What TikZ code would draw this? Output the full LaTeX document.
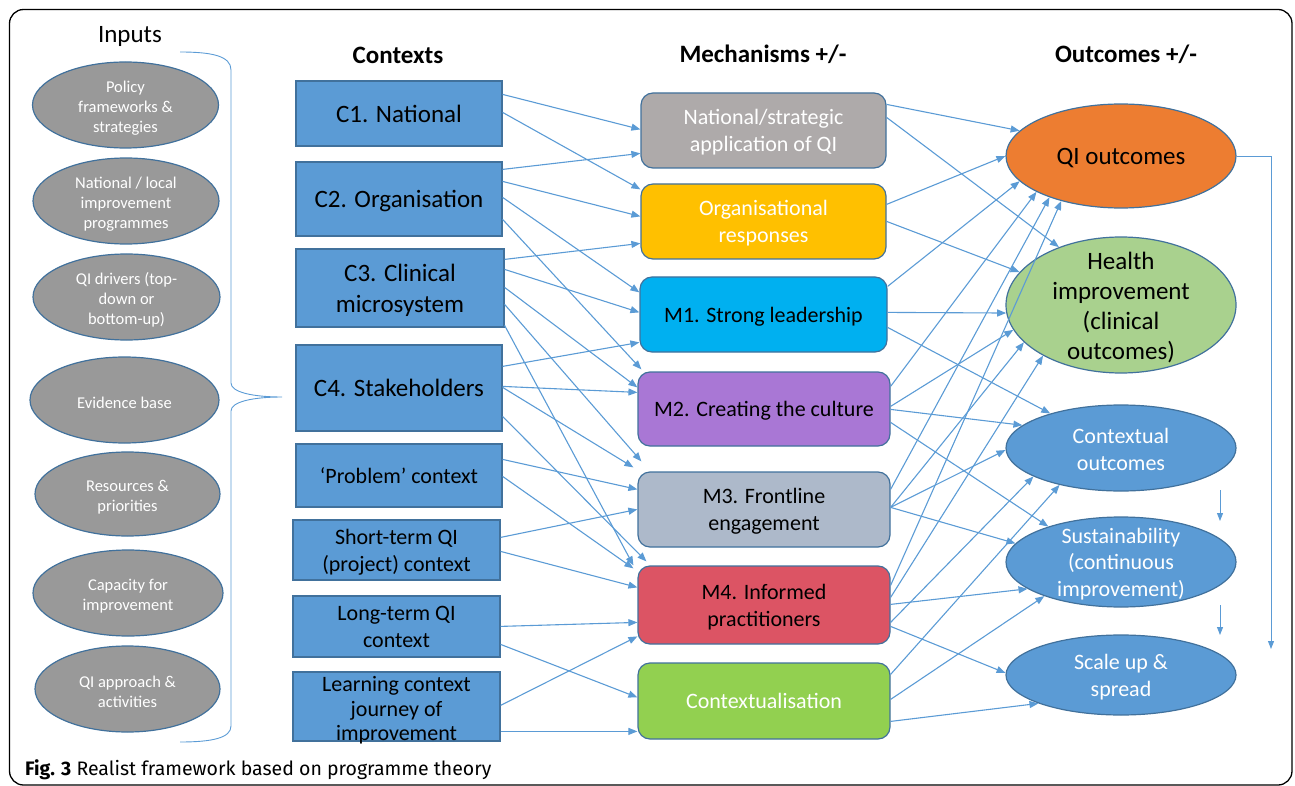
\documentclass[tikz,border=0pt]{standalone}
\usepackage{fontspec}
\setmainfont{Carlito}
\newfontfamily\capfont{Fira Sans}
\usetikzlibrary{arrows.meta,shapes.geometric,calc}
\newcommand{\fsz}[2]{\fontsize{#1}{#2}\selectfont}
\definecolor{cblue}{HTML}{5B9BD5}
\definecolor{bord}{HTML}{41719C}
\definecolor{ngray}{HTML}{AEAAAA}
\definecolor{orgy}{HTML}{FFC000}
\definecolor{mone}{HTML}{00B0F0}
\definecolor{mtwo}{HTML}{A977D5}
\definecolor{mthree}{HTML}{ADB9CA}
\definecolor{mfour}{HTML}{DC5464}
\definecolor{ctxg}{HTML}{92D050}
\definecolor{qio}{HTML}{ED7D31}
\definecolor{hlth}{HTML}{A9D18E}
\definecolor{inp}{HTML}{999999}
\begin{document}
\begin{tikzpicture}[x=1pt,y=-1pt,
  ctxbox/.style={draw=bord, line width=1.2pt, fill=cblue, inner sep=0pt, align=center, text depth=0pt, font=\fsz{25}{31}},
  ctxsmall/.style={ctxbox, font=\fsz{22}{27}},
  mech/.style={draw=bord, line width=1.2pt, rounded corners=12pt, inner sep=0pt, align=center, text depth=0pt, font=\fsz{22}{27}},
  outc/.style={ellipse, draw=bord, line width=1.2pt, minimum width=230pt, inner sep=0pt},
  inpe/.style={ellipse, draw=bord, line width=1.2pt, fill=inp, inner sep=0pt, minimum height=86pt},
  inptxt/.style={text=white, align=center, yshift=-3pt, font=\fsz{16.5}{19.8}},
  outtxt/.style={align=center, yshift=-2pt, font=\fsz{22}{27}},
  ttl/.style={font=\fsz{25}{30}\bfseries},
  arr/.style={draw=cblue, line width=1.1pt, -{Triangle[length=9pt,width=7pt]}},
  thinarr/.style={draw=cblue, line width=0.9pt, -{Triangle[length=8pt,width=6pt]}}
]
\useasboundingbox (0,0) rectangle (1295,786);
\draw[line width=1.3pt, rounded corners=14pt] (9.5,9.5) rectangle (1292,785);

% titles
\node[font=\fsz{25}{30}] (tin) at (130,36) {Inputs};
\node[ttl] (tctx) at (398,55) {Contexts};
\node[ttl] (tmech) at (763,54) {Mechanisms +/-};
\node[ttl] (tout) at (1126,54) {Outcomes +/-};

% inputs
\node[inpe, minimum width=186pt] (i1) at (125.5,105) {};
\node[inptxt] (i1t) at (i1.center) {Policy\\frameworks \&\\strategies};
\node[inpe, minimum width=186pt] (i2) at (126,201) {};
\node[inptxt] (i2t) at (i2.center) {National / local\\improvement\\programmes};
\node[inpe, minimum width=187pt] (i3) at (126.5,297) {};
\node[inptxt] (i3t) at (i3.center) {QI drivers (top-\\down or\\bottom-up)};
\node[inpe, minimum width=189pt] (i4) at (124.5,400) {};
\node[inptxt] (i4t) at (i4.center) {Evidence base};
\node[inpe, minimum width=185pt, minimum height=84pt] (i5) at (127.5,494) {};
\node[inptxt] (i5t) at (i5.center) {Resources \&\\priorities};
\node[inpe, minimum width=190pt] (i6) at (128,593) {};
\node[inptxt] (i6t) at (i6.center) {Capacity for\\improvement};
\node[inpe, minimum width=185pt] (i7) at (127.5,689) {};
\node[inptxt] (i7t) at (i7.center) {QI approach \&\\activities};

% brace
\draw[cblue, line width=0.9pt] (180,52) .. controls (212,52) and (231,56) .. (231,70)
  -- (231,383) .. controls (231,392) and (252,397) .. (282,397)
  .. controls (252,397) and (231,402) .. (231,411)
  -- (231,726) .. controls (231,738) and (212,742) .. (180,742);

% contexts
\node[ctxbox, minimum width=206pt, minimum height=65pt] (c1) at (399,113.5) {C1. National};
\node[ctxbox, minimum width=206pt, minimum height=74pt] (c2) at (399,199) {C2. Organisation};
\node[ctxbox, minimum width=208pt, minimum height=78pt] (c3) at (400,288) {C3. Clinical\\microsystem};
\node[ctxbox, minimum width=206pt, minimum height=86pt] (c4) at (399,388) {C4. Stakeholders};
\node[ctxsmall, minimum width=206pt, minimum height=63pt] (prob) at (399,475.5) {‘Problem’ context};
\node[ctxsmall, minimum width=207pt, minimum height=60pt] (short) at (396.5,550) {Short-term QI\\(project) context};
\node[ctxsmall, minimum width=207pt, minimum height=61pt] (long) at (396.5,626.5) {Long-term QI\\context};
\node[ctxbox, minimum width=207pt, minimum height=69pt] (learn) at (396.5,706.5) {};
\node[align=center, font=\fsz{22}{24.5}] (learnt) at ([yshift=-4pt]learn.center) {Learning context\\journey of\\improvement};

% mechanisms
\node[mech, fill=ngray, text=white, minimum width=245pt, minimum height=75pt] (nat) at (763.5,130.5) {National/strategic\\application of QI};
\node[mech, fill=orgy, text=white, minimum width=245pt, minimum height=75pt] (org) at (763.5,221.5) {Organisational\\responses};
\node[mech, fill=mone, minimum width=247pt, minimum height=75pt] (m1) at (763.5,314.5) {M1. Strong leadership};
\node[mech, fill=mtwo, minimum width=252pt, minimum height=74pt] (m2) at (764,409) {M2. Creating the culture};
\node[mech, fill=mthree, minimum width=252pt, minimum height=75pt] (m3) at (764,509.5) {M3. Frontline\\engagement};
\node[mech, fill=mfour, minimum width=252pt, minimum height=78pt] (m4) at (764,605) {M4. Informed\\practitioners};
\node[mech, fill=ctxg, text=white, minimum width=252pt, minimum height=76pt] (ctx) at (764,701) {Contextualisation};

% outcomes
\node[outc, fill=qio, minimum height=104pt] (qi) at (1121,156) {};
\node[font=\fsz{25}{30}, yshift=-2pt] (qit) at (qi.center) {QI outcomes};
\node[outc, fill=hlth, minimum height=136pt] (hl) at (1121,305) {};
\node[align=center, font=\fsz{25}{30}, yshift=-3pt] (hlt) at (hl.center) {Health\\improvement\\(clinical\\outcomes)};
\node[outc, fill=cblue, minimum height=86pt] (co) at (1121,448) {};
\node[outtxt, text=white, yshift=1pt] (cot) at (co.center) {Contextual\\outcomes};
\node[outc, fill=cblue, minimum height=90pt] (su) at (1121,562) {};
\node[outtxt, text=white, font=\fsz{22}{26.5}] (sut) at (su.center) {Sustainability\\(continuous\\improvement)};
\node[outc, fill=cblue, minimum height=80pt] (sc) at (1121,675) {};
\node[outtxt, text=white] (sct) at (sc.center) {Scale up \&\\spread};

% contexts -> mechanisms
\draw[arr] ([yshift=-14pt]c1.north east) -- ([yshift=-37pt]nat.north west);
\draw[arr] ([yshift=-32pt]c1.north east) -- ([yshift=-6pt]org.north west);
\draw[arr] ([yshift=-8pt]c2.north east) -- ([yshift=-61pt]nat.north west);
\draw[arr] ([yshift=-20pt]c2.north east) -- ([yshift=-33pt]org.north west);
\draw[arr] ([yshift=-36pt]c2.north east) -- ([yshift=-16pt]m1.north west);
\draw[arr] ([yshift=-58pt]c2.north east) -- ([xshift=4pt,yshift=2pt]m2.north west);
\draw[arr] ([yshift=-11pt]c3.north east) -- ([yshift=-60pt]org.north west);
\draw[arr] ([yshift=-21pt]c3.north east) -- ([yshift=-36pt]m1.north west);
\draw[arr] ([yshift=-39pt]c3.north east) -- ([yshift=-16pt]m2.north west);
\draw[arr] ([yshift=-56pt]c3.north east) -- ([xshift=4pt,yshift=10pt]m3.north west);
\draw[arr] ([yshift=-77pt]c3.north east) -- ([xshift=-4pt,yshift=0pt]m4.north west);
\draw[arr] ([yshift=-22pt]c4.north east) -- ([yshift=-66pt]m1.north west);
\draw[arr] ([yshift=-42pt]c4.north east) -- ([yshift=-21pt]m2.north west);
\draw[arr] ([yshift=-43pt]c4.north east) -- ([xshift=-4pt,yshift=4pt]m3.north west);
\draw[arr] ([yshift=-72pt]c4.north east) -- ([xshift=9pt,yshift=4pt]m4.north west);
\draw[arr] ([yshift=-16pt]prob.north east) -- ([yshift=-18pt]m3.north west);
\draw[arr] ([yshift=-33pt]prob.north east) -- ([xshift=-4pt,yshift=-3pt]m4.north west);
\draw[arr] ([yshift=-18pt]short.north east) -- ([yshift=-38pt]m3.north west);
\draw[arr] ([yshift=-32pt]short.north east) -- ([yshift=-22pt]m4.north west);
\draw[arr] ([yshift=-31pt]long.north east) -- ([yshift=-57pt]m4.north west);
\draw[arr] ([yshift=-49pt]long.north east) -- ([yshift=-35pt]ctx.north west);
\draw[arr] ([yshift=-34pt]learn.north east) -- ([yshift=-71pt]m4.north west);
\draw[arr] ([yshift=-60pt]learn.north east) -- ([yshift=-69pt]ctx.north west);

% mechanisms -> outcomes
\draw[arr] ([yshift=-12pt]nat.north east) -- (qi.166);
\draw[arr] ([yshift=-25pt]nat.north east) -- (hl.137);
\draw[arr] ([yshift=-21pt]org.north east) -- (qi.180);
\draw[arr] ([yshift=-38pt]org.north east) -- (hl.162);
\draw[arr] ([yshift=-10pt]m1.north east) -- (qi.194);
\draw[arr] ([yshift=-36pt]m1.north east) -- (hl.184);
\draw[arr] ([yshift=-51pt]m1.north east) -- (co.154);
\draw[arr] ([yshift=-15pt]m2.north east) -- (qi.203);
\draw[arr] ([yshift=-35pt]m2.north east) -- (hl.193);
\draw[arr] ([yshift=-38pt]m2.north east) -- (co.167);
\draw[arr] ([yshift=-51pt]m2.north east) -- (su.154);
\draw[arr] ([yshift=-18pt]m3.north east) -- (qi.210);
\draw[arr] ([yshift=-36pt]m3.north east) -- (hl.201);
\draw[arr] ([yshift=-36pt]m3.north east) -- (co.181);
\draw[arr] ([yshift=-36pt]m3.north east) -- (su.170);
\draw[arr] ([yshift=-20pt]m4.north east) -- (qi.217);
\draw[arr] ([yshift=-32pt]m4.north east) -- (hl.213);
\draw[arr] ([yshift=-39pt]m4.north east) -- (su.196);
\draw[arr] ([yshift=-57pt]m4.north east) -- (co.198);
\draw[arr] ([yshift=-61pt]m4.north east) -- (sc.179);
\draw[arr] ([yshift=-12pt]ctx.north east) -- (co.211);
\draw[arr] ([yshift=-37pt]ctx.north east) -- (su.204);
\draw[arr] ([yshift=-59pt]ctx.north east) -- (sc.199);

% right side arrows
\coordinate (qr) at (1271,156);
\coordinate (qb) at (1271,649);
\draw[thinarr] (qi.east) -- (qr) -- (qb);
\coordinate (s1a) at (1220,490);
\coordinate (s1b) at (1220,521);
\draw[thinarr] (s1a) -- (s1b);
\coordinate (s2a) at (1220,605);
\coordinate (s2b) at (1220,635);
\draw[thinarr] (s2a) -- (s2b);

% caption
\node[anchor=base west, font=\capfont\fsz{19.5}{23}, inner sep=0pt] (cap) at (25,775) {\textbf{Fig. 3} Realist framework based on programme theory};
\end{tikzpicture}
\end{document}
